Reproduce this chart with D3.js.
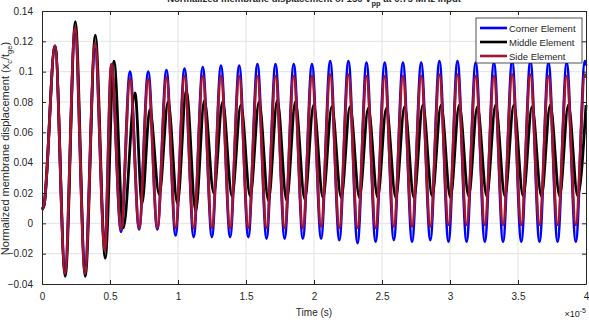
<!DOCTYPE html>
<meta charset="utf-8">
<script src="https://d3js.org/d3.v7.min.js"></script>
<style>
  body { margin: 0; background: #fff; }
  text { font-family: "Liberation Sans", Arial, sans-serif; fill: #262626; }
  .grid line { stroke: #e3e3e3; stroke-width: 1; }
  .trace { fill: none; stroke-width: 2.8; stroke-linejoin: round; }
</style>
<svg id="chart" width="589" height="327"></svg>
<script>

  // extrema (time in units of 1e-5 s)
  var tCornerSide = [0, 0.015, 0.096, 0.169, 0.243, 0.316, 0.390, 0.462, 0.510, 0.581,
    0.647, 0.714, 0.781, 0.848, 0.915, 0.982, 1.048, 1.115, 1.182, 1.249,
    1.316, 1.383, 1.450, 1.517, 1.584, 1.651, 1.717, 1.784, 1.851, 1.918,
    1.985, 2.052, 2.119, 2.186, 2.253, 2.320, 2.386, 2.453, 2.520, 2.587,
    2.654, 2.721, 2.788, 2.855, 2.922, 2.989, 3.055, 3.122, 3.189, 3.256,
    3.323, 3.390, 3.457, 3.524, 3.591, 3.658, 3.724, 3.791, 3.858, 3.925,
    3.992, 4.000];

  var corner = [0.009, 0.012, 0.117, -0.031, 0.125, -0.028, 0.115, -0.015, 0.104, -0.0055,
    0.100, -0.004, 0.100, -0.004, 0.101, -0.008, 0.102, -0.009, 0.103, -0.009,
    0.104, -0.009, 0.104, -0.009, 0.105, -0.010, 0.105, -0.010, 0.105, -0.010,
    0.105, -0.010, 0.107, -0.011, 0.107, -0.013, 0.106, -0.012, 0.106, -0.011,
    0.106, -0.012, 0.106, -0.011, 0.107, -0.012, 0.107, -0.012, 0.106, -0.012,
    0.106, -0.012, 0.107, -0.012, 0.107, -0.012, 0.106, -0.012, 0.106, -0.012,
    0.107, 0.104];

  var side = [0.009, 0.012, 0.117, -0.033, 0.129, -0.033, 0.119, -0.018, 0.105, -0.004,
    0.095, -0.003, 0.095, -0.003, 0.096, -0.003, 0.097, -0.003, 0.097, -0.003,
    0.097, -0.003, 0.097, -0.003, 0.097, -0.003, 0.097, -0.003, 0.097, -0.003,
    0.097, -0.002, 0.098, -0.003, 0.098, -0.003, 0.097, -0.003, 0.097, -0.002,
    0.097, -0.002, 0.097, -0.002, 0.098, -0.001, 0.098, -0.001, 0.097, -0.001,
    0.097, -0.001, 0.098, -0.001, 0.098, -0.001, 0.097, -0.001, 0.097, -0.001,
    0.098, 0.096];

  var tMiddle = [0, 0.015, 0.096, 0.171, 0.245, 0.318, 0.392, 0.465, 0.529, 0.598,
    0.684, 0.735, 0.793, 0.862, 0.927, 0.996, 1.061, 1.130, 1.194, 1.263,
    1.328, 1.397, 1.462, 1.531, 1.596, 1.665, 1.730, 1.799, 1.863, 1.932,
    1.997, 2.066, 2.131, 2.200, 2.265, 2.334, 2.399, 2.468, 2.532, 2.601,
    2.666, 2.735, 2.800, 2.869, 2.934, 3.003, 3.068, 3.137, 3.201, 3.270,
    3.335, 3.404, 3.469, 3.538, 3.603, 3.672, 3.737, 3.806, 3.870, 3.939,
    4.000];

  var middle = [0.009, 0.012, 0.117, -0.035, 0.133, -0.035, 0.124, -0.023, 0.107, -0.003,
    0.086, 0.013, 0.075, 0.019, 0.080, 0.013, 0.088, 0.008, 0.081, 0.020,
    0.080, 0.018, 0.078, 0.018, 0.080, 0.015, 0.081, 0.015, 0.080, 0.016,
    0.078, 0.017, 0.077, 0.017, 0.077, 0.017, 0.076, 0.017, 0.076, 0.017,
    0.077, 0.017, 0.078, 0.018, 0.078, 0.017, 0.078, 0.018, 0.077, 0.018,
    0.078, 0.018, 0.078, 0.018, 0.077, 0.018, 0.078, 0.018, 0.078, 0.018,
    0.078];

  var seriesNames = ["Corner Element", "Middle Element", "Side Element"];
  var seriesColors = ["#0000ff", "#000000", "#a2142f"];
  var xTicks = [0, 0.5, 1, 1.5, 2, 2.5, 3, 3.5, 4];
  var yTicks = [-0.04, -0.02, 0, 0.02, 0.04, 0.06, 0.08, 0.1, 0.12, 0.14];

  var svg = d3.select("#chart");
  var plotL = 42, plotR = 586, plotT = 11, plotB = 284;

  var x = d3.scaleLinear().domain([0, 4]).range([plotL, plotR]);
  var y = d3.scaleLinear().domain([-0.04, 0.14]).range([plotB, plotT]);

  // grid
  var grid = svg.append("g").attr("class", "grid");
  grid.selectAll(".gx").data(xTicks.slice(1, -1)).enter().append("line")
    .attr("x1", d => x(d)).attr("x2", d => x(d))
    .attr("y1", plotT).attr("y2", plotB);
  grid.selectAll(".gy").data(yTicks.slice(1, -1)).enter().append("line")
    .attr("x1", plotL).attr("x2", plotR)
    .attr("y1", d => y(d)).attr("y2", d => y(d));

  // traces
  var line = d3.line()
    .x(d => x(d[0]))
    .y(d => y(d[1]))
    .curve(d3.curveMonotoneX);

  var traces = [d3.zip(tCornerSide, corner), d3.zip(tMiddle, middle), d3.zip(tCornerSide, side)];
  svg.append("g").selectAll("path")
    .data(traces).enter().append("path")
    .attr("class", "trace")
    .attr("stroke", (d, i) => seriesColors[i])
    .attr("d", line);

  // axes (ticks pointing inward, box on all sides)
  var axisColor = "#262626";
  function styleAxis(g) {
    g.selectAll("path").attr("stroke", axisColor).attr("stroke-width", 1);
    g.selectAll("line").attr("stroke", axisColor);
    g.selectAll("text").attr("fill", "#333").style("font-size", "10px")
      .style("font-family", "Liberation Sans, Arial, sans-serif");
  }

  svg.append("g").attr("transform", "translate(0," + plotB + ")")
    .call(d3.axisBottom(x).tickValues(xTicks).tickFormat(d3.format("")).tickSizeInner(-4).tickSizeOuter(0).tickPadding(9))
    .call(styleAxis);
  svg.append("g").attr("transform", "translate(0," + plotT + ")")
    .call(d3.axisTop(x).tickValues(xTicks).tickFormat("").tickSizeInner(-4).tickSizeOuter(0))
    .call(styleAxis);
  svg.append("g").attr("transform", "translate(" + plotL + ",0)")
    .call(d3.axisLeft(y).tickValues(yTicks).tickFormat(d3.format("")).tickSizeInner(-4).tickSizeOuter(0).tickPadding(9))
    .call(styleAxis);
  svg.append("g").attr("transform", "translate(" + plotR + ",0)")
    .call(d3.axisRight(y).tickValues(yTicks).tickFormat("").tickSizeInner(-4).tickSizeOuter(0))
    .call(styleAxis);

  // title (clipped at the top in the original)
  var title = svg.append("text")
    .attr("x", (plotL + plotR) / 2).attr("y", 2)
    .attr("text-anchor", "middle")
    .style("font-size", "9.5px").style("font-weight", "bold");
  title.append("tspan").text("Normalized membrane displacement of 150 V");
  title.append("tspan").attr("dy", 4).style("font-size", "7.5px").text("pp");
  title.append("tspan").attr("dy", -4).text(" at 0.75 MHz input");

  // x label and exponent
  svg.append("text")
    .attr("x", (plotL + plotR) / 2).attr("y", 316)
    .attr("text-anchor", "middle")
    .style("font-size", "10px")
    .text("Time (s)");

  var expo = svg.append("text")
    .attr("x", plotR).attr("y", 317)
    .attr("text-anchor", "end")
    .style("font-size", "9px");
  expo.append("tspan").text("\u00d710");
  expo.append("tspan").attr("dy", -4).style("font-size", "7px").text("-5");

  // y label
  var ylab = svg.append("text")
    .attr("transform", "translate(9," + ((plotT + plotB) / 2 + 1) + ") rotate(-90)")
    .attr("text-anchor", "middle")
    .style("font-size", "11px");
  ylab.append("tspan").text("Normalized membrane displacement (x");
  ylab.append("tspan").attr("dy", 3).style("font-size", "7.5px").text("c");
  ylab.append("tspan").attr("dy", -3).text("/t");
  ylab.append("tspan").attr("dy", 3).style("font-size", "7.5px").text("ge");
  ylab.append("tspan").attr("dy", -3).text(")");

  // legend
  var lg = svg.append("g").attr("transform", "translate(476,18)");
  lg.append("rect")
    .attr("width", 106).attr("height", 45)
    .attr("fill", "#fff").attr("stroke", axisColor).attr("stroke-width", 0.8);
  var items = lg.selectAll(".item").data(seriesNames).enter().append("g")
    .attr("transform", (d, i) => "translate(0," + (10 + i * 14) + ")");
  items.append("line")
    .attr("x1", 4).attr("x2", 31)
    .attr("stroke", (d, i) => seriesColors[i]).attr("stroke-width", 2.6);
  items.append("text")
    .attr("x", 33).attr("y", 3.5)
    .style("font-size", "9.5px")
    .text(d => d);

</script>
